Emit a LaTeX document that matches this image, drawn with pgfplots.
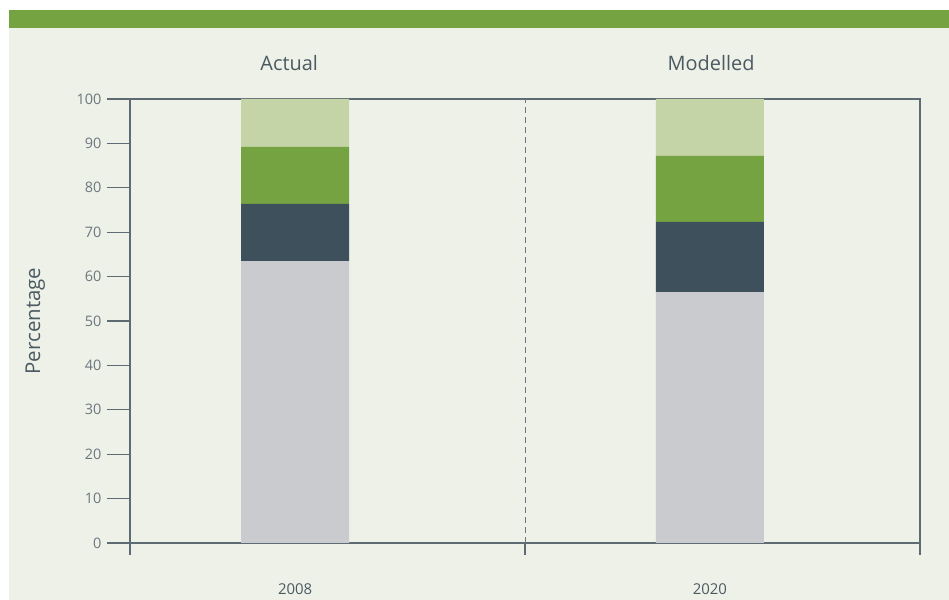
\documentclass[border=0pt]{standalone}
\usepackage{fontspec}
\setmainfont{Open Sans}
\usepackage{pgfplots}
\pgfplotsset{compat=1.18}
\definecolor{bgpanel}{HTML}{EEF1E7}
\definecolor{band}{HTML}{76A342}
\definecolor{lgreen}{HTML}{C4D4A6}
\definecolor{mgreen}{HTML}{76A342}
\definecolor{dslate}{HTML}{3D505B}
\definecolor{lgrey}{HTML}{CACBCF}
\definecolor{axcol}{HTML}{5F6B73}
\definecolor{txtcol}{HTML}{4B5A62}
\definecolor{tickcol}{HTML}{6B7780}
\begin{document}
\begin{tikzpicture}[x=1bp,y=1bp]
\fill[white] (0,0) rectangle (949,600);
\fill[bgpanel] (9,0) rectangle (949,590);
\fill[band] (9,572) rectangle (949,590);
\begin{axis}[
  at={(130bp,57bp)}, anchor=south west,
  scale only axis, width=790bp, height=444bp,
  xmin=0, xmax=2, ymin=0, ymax=100,
  ybar stacked, bar width=108bp,
  /pgf/number format/assume math mode=true,
  axis line style={draw=axcol, line width=1.1bp},
  ytick={0,10,...,100}, ytick pos=left,
  tick align=outside, major tick length=23bp,
  tick style={draw=axcol, line width=1.1bp},
  xtick=\empty,
  extra x ticks={0.418,1.468},
  extra x tick labels={2008,2020},
  extra x tick style={tick style={draw=none}},
  x tick label style={font=\fontsize{15}{17}\selectfont, text=txtcol, anchor=center, yshift=-23bp},
  y tick label style={font=\fontsize{14.5}{17}\selectfont, text=tickcol, xshift=-2bp},
  ylabel={Percentage},
  ylabel style={at={(axis description cs:-0.12,0.5)}, anchor=center, font=\fontsize{20.5}{23}\selectfont, text=txtcol},
  clip=false,
]
\addplot[fill=lgrey, draw=none] coordinates {(0.418,63.5) (1.468,56.5)};
\addplot[fill=dslate, draw=none] coordinates {(0.418,12.9) (1.468,15.8)};
\addplot[fill=mgreen, draw=none] coordinates {(0.418,12.8) (1.468,14.9)};
\addplot[fill=lgreen, draw=none] coordinates {(0.418,10.8) (1.468,12.8)};
\draw[tickcol, line width=0.8bp, dash pattern=on 6bp off 4bp] (axis cs:1,0) -- (axis cs:1,100);
\draw[axcol, line width=1.1bp] (axis cs:0,0) -- ++(0,-12bp);
\draw[axcol, line width=1.1bp] (axis cs:1,0) -- ++(0,-12bp);
\draw[axcol, line width=1.1bp] (axis cs:2,0) -- ++(0,-12bp);
\node[font=\fontsize{20}{23}\selectfont, text=txtcol] at ([yshift=36bp]axis cs:0.403,100) {Actual};
\node[font=\fontsize{20}{23}\selectfont, text=txtcol] at ([yshift=36bp]axis cs:1.471,100) {Modelled};
\end{axis}
\end{tikzpicture}
\end{document}
